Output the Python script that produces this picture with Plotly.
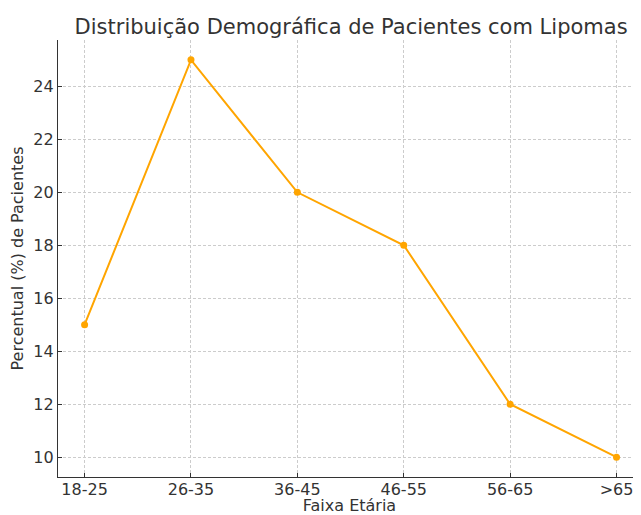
import plotly.graph_objects as go

faixas = ["18-25", "26-35", "36-45", "46-55", "56-65", ">65"]
percentuais = [15, 25, 20, 18, 12, 10]
y_ticks = [10, 12, 14, 16, 18, 20, 22, 24]

fig = go.Figure()
fig.add_trace(go.Scatter(
    x=faixas, y=percentuais, mode="lines+markers",
    line=dict(color="#FFA500", width=2),
    marker=dict(color="#FFA500", size=7),
))

font = "DejaVu Sans, sans-serif"
# page body has an 8px default margin; size figure to fill the remaining window
fig.update_layout(
    width=633, height=507,
    margin=dict(l=50, r=0, t=32, b=38, autoexpand=False),
    paper_bgcolor="white", plot_bgcolor="white",
    showlegend=False,
    font=dict(family=font, color="#333333", size=16),
    title=dict(text="Distribuição Demográfica de Pacientes com Lipomas",
               x=0.542, xanchor="center", y=0.964, yanchor="middle",
               font=dict(size=21, color="#333333", family=font)),
)
fig.update_xaxes(
    type="category", range=[-0.25, 5.23], automargin=False,
    showline=True, linecolor="#333333", linewidth=1.2,
    ticks="inside", ticklen=4, tickcolor="#333333",
    showgrid=True, gridcolor="#cccccc", griddash="3px,2px", gridwidth=0.8,
    zeroline=False,
    title=dict(text="Faixa Etária", font=dict(size=16), standoff=6),
    tickfont=dict(size=16),
    ticklabelstandoff=-2,
)
fig.update_yaxes(
    range=[9.25, 25.75], tickvals=y_ticks, automargin=False,
    showline=True, linecolor="#333333", linewidth=1.2,
    ticks="inside", ticklen=4, tickcolor="#333333",
    showgrid=True, gridcolor="#cccccc", griddash="3px,2px", gridwidth=0.8,
    zeroline=False,
    title=dict(text="Percentual (%) de Pacientes", font=dict(size=16), standoff=6),
    tickfont=dict(size=16),
)

fig.write_html("out.html")
